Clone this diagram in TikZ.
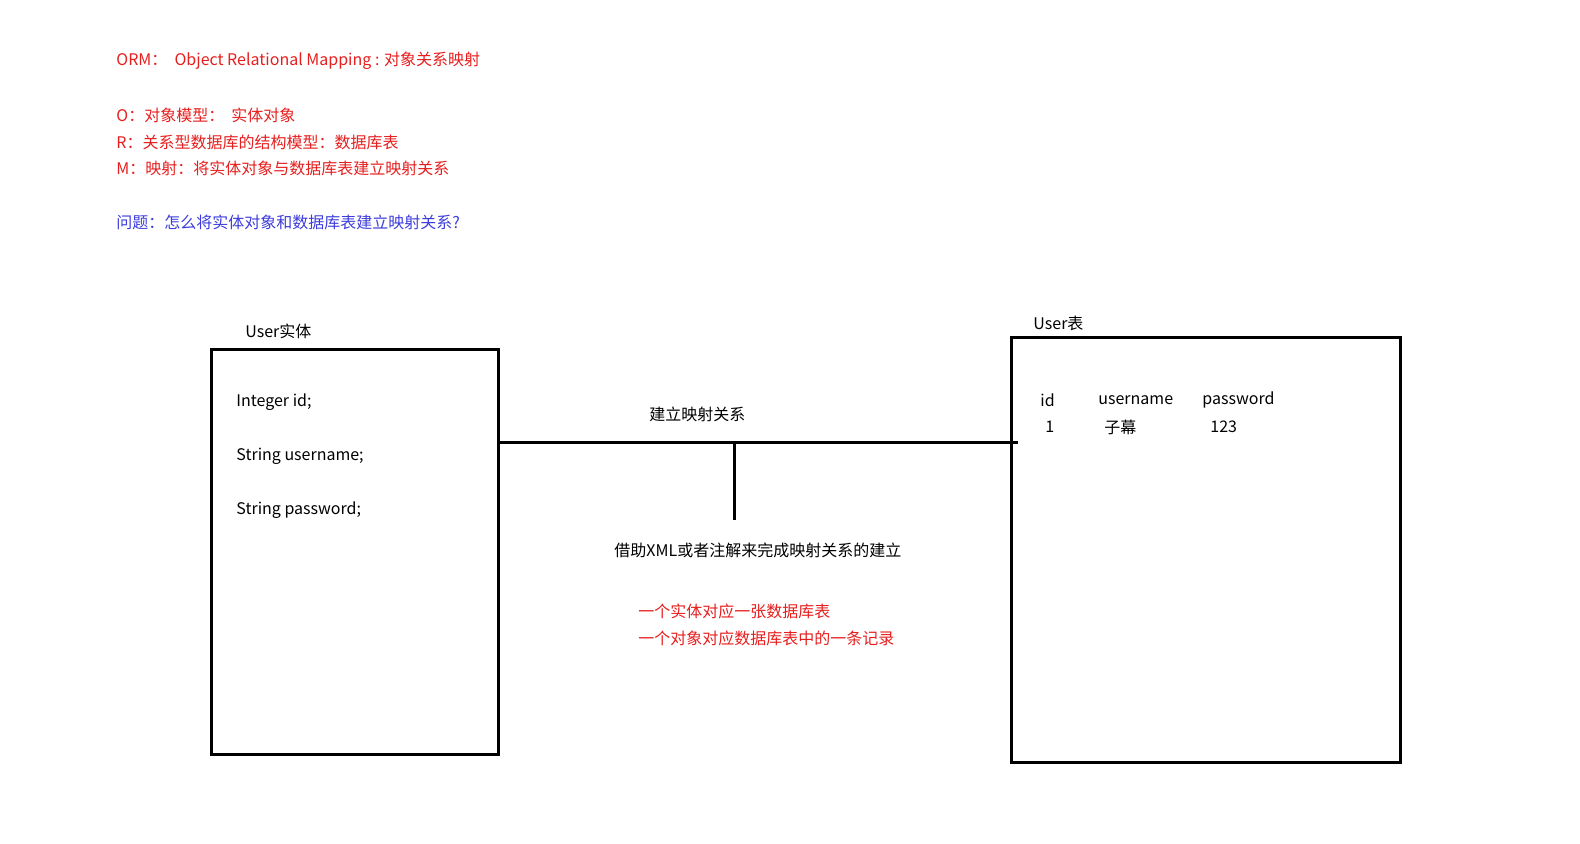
\documentclass[tikz,border=0pt]{standalone}
\usepackage{fontspec}
\setmainfont{Noto Sans CJK SC}
\begin{document}
\begin{tikzpicture}[x=0.5pt,y=-0.5pt,
  lbl/.style={anchor=west,inner sep=0pt,font=\fontsize{8}{10}\selectfont},
  red/.style={text={rgb,255:red,230;green,30;blue,30}},
  blu/.style={text={rgb,255:red,60;green,60;blue,220}},
  box/.style={draw,line width=1.5pt}]
\useasboundingbox (0,0) rectangle (1580,844);
\node[lbl,red] (t1) at (116,61) {ORM：\ \ Object Relational Mapping : 对象关系映射};
\node[lbl,red] (t2) at (116,115) {O：对象模型：\ \ 实体对象};
\node[lbl,red] (t3) at (116,142) {R：关系型数据库的结构模型：数据库表};
\node[lbl,red] (t4) at (116,168) {M：映射：将实体对象与数据库表建立映射关系};
\node[lbl,blu] (t5) at (116,222) {问题：怎么将实体对象和数据库表建立映射关系?};
\node[lbl] (ue) at (245,331) {User实体};
\draw[box] (211,350) rectangle (498,754);
\node[lbl] (f1) at (236,402) {Integer id;};
\node[lbl] (f2) at (236,456) {String username;};
\node[lbl] (f3) at (236,510) {String password;};
\node[lbl] (ut) at (1033,323) {User表};
\draw[box] (1011,338) rectangle (1400,762);
\node[lbl] (c1) at (1040,400) {id};
\node[lbl] (c2) at (1098,400) {username};
\node[lbl] (c3) at (1202,400) {password};
\node[lbl] (v1) at (1045,427) {1};
\node[lbl] (v2) at (1104,427) {子幕};
\node[lbl] (v3) at (1210,427) {123};
\coordinate (a) at (498,443);
\coordinate (b) at (1018,443);
\coordinate (m) at (734,443);
\coordinate (n) at (734,520);
\draw[line width=1.5pt] (a) -- (b);
\draw[line width=1.5pt] (m) -- (n);
\node[lbl] (mp) at (649,414) {建立映射关系};
\node[lbl] (xml) at (614,550) {借助XML或者注解来完成映射关系的建立};
\node[lbl,red] (r1) at (638,611) {一个实体对应一张数据库表};
\node[lbl,red] (r2) at (638,638) {一个对象对应数据库表中的一条记录};
\end{tikzpicture}
\end{document}
